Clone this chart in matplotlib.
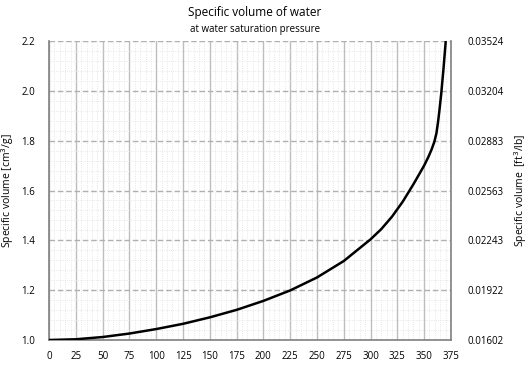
import numpy as np
import matplotlib.pyplot as plt
from matplotlib.ticker import MultipleLocator, AutoMinorLocator

plt.rcParams['font.family'] = ['Open Sans', 'DejaVu Sans']

# temperature (degC) and specific volume of saturated water (cm3/g)
temp = [0, 25, 50, 75, 100, 125, 150, 175, 200, 225, 250, 275, 300, 310,
        320, 330, 340, 350, 354, 357, 359.5, 361.5, 363, 364.5, 366, 368,
        370, 371]
vol = [1.000, 1.003, 1.012, 1.026, 1.044, 1.065, 1.091, 1.121, 1.157, 1.199,
       1.251, 1.317, 1.404, 1.445, 1.495, 1.555, 1.625, 1.70, 1.735, 1.765,
       1.795, 1.83, 1.875, 1.93, 1.99, 2.085, 2.19, 2.25]

left_ticks = [1.0, 1.2, 1.4, 1.6, 1.8, 2.0, 2.2]
right_labels = ['0.01602', '0.01922', '0.02243', '0.02563', '0.02883', '0.03204', '0.03524']

fig = plt.figure(figsize=(5.28, 3.66), dpi=100)
ax = fig.add_axes([0.093, 0.071, 0.761, 0.817])

ax.plot(temp, vol, color='black', lw=1.8, zorder=5)
ax.set_xlim(0, 375)
ax.set_ylim(1.0, 2.2)
ax.xaxis.set_major_locator(MultipleLocator(25))
ax.set_yticks(left_ticks)
ax.set_yticklabels([f'{t:.1f}' for t in left_ticks])
ax.xaxis.set_minor_locator(AutoMinorLocator(5))
ax.yaxis.set_minor_locator(AutoMinorLocator(5))

ax.grid(axis='x', which='major', color='#bdbdbd', lw=1.0, ls='-')
ax.grid(axis='y', which='major', color='#b0b0b0', lw=1.0, ls=(0, (4, 2)))
ax.grid(which='minor', color='#e0e0e0', lw=0.6, ls=':')

for s in ['left', 'bottom', 'right']:
    ax.spines[s].set_color('#808080')
    ax.spines[s].set_linewidth(1.2)
ax.spines['top'].set_visible(False)
ax.tick_params(which='both', length=0, labelsize=7, pad=8)
ax.tick_params(axis='y', pad=10)
ax.set_ylabel('Specific volume [cm$^3$/g]', fontsize=7.5, labelpad=4)

ax2 = ax.twinx()
ax2.set_ylim(1.0, 2.2)
ax2.set_yticks(left_ticks)
ax2.set_yticklabels(right_labels)
ax2.tick_params(length=0, labelsize=7, pad=12)
for s in ['left', 'bottom', 'right', 'top']:
    ax2.spines[s].set_visible(False)
ax2.set_ylabel('Specific volume  [ft$^3$/lb]', fontsize=7.5, labelpad=6)

fig.text(0.483, 0.955, 'Specific volume of water', ha='center', fontsize=8.5)
fig.text(0.483, 0.912, 'at water saturation pressure', ha='center', fontsize=7)

fig.savefig('out.png', dpi=100)
